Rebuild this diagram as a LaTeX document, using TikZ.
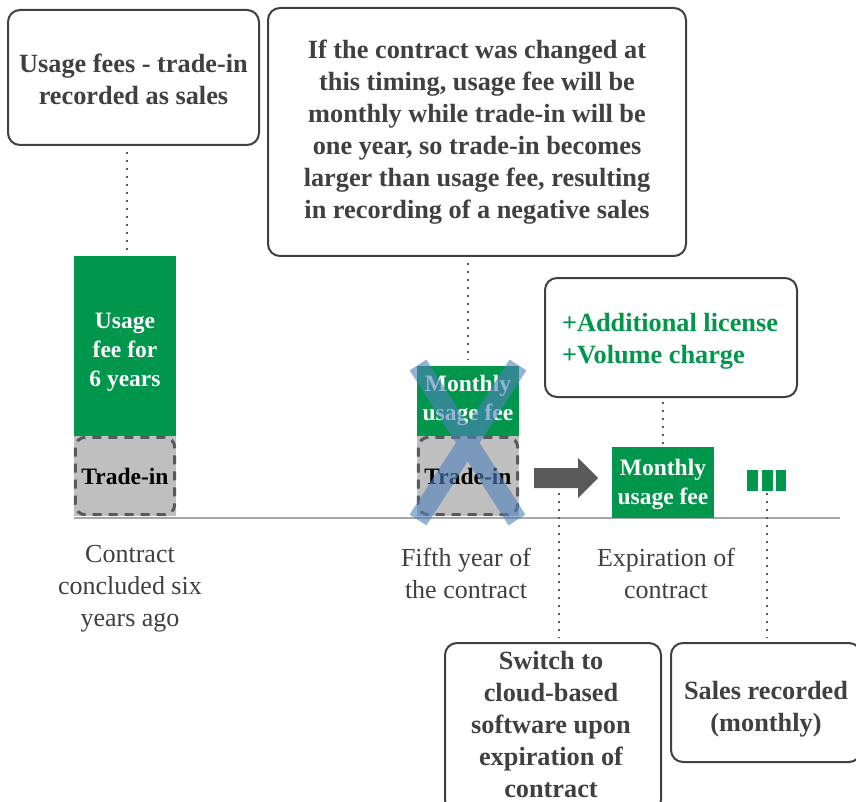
\documentclass[tikz,border=0pt]{standalone}
\usepackage{fontspec}
\setmainfont{Liberation Serif}
\usetikzlibrary{calc}
\definecolor{grn}{HTML}{00964B}
\definecolor{txt}{HTML}{404040}
\definecolor{edge}{HTML}{404040}
\definecolor{tradefill}{HTML}{BFBFBF}
\definecolor{dashc}{HTML}{595959}
\definecolor{axisc}{HTML}{A6A6A6}
\definecolor{xblue}{HTML}{4F81BD}
\tikzset{
 callout/.style={draw=edge, line width=2pt, rounded corners=12pt, fill=white, align=center, text=txt, font=\bfseries\fontsize{26.3}{32}\selectfont, inner sep=0pt},
 callouttext/.style={text=txt, align=center, font=\bfseries\fontsize{26.3}{32}\selectfont, inner sep=0pt},
 greenbox/.style={fill=grn, inner sep=0pt, minimum width=102pt},
 greentext/.style={text=white, align=center, font=\bfseries\fontsize{23.5}{29}\selectfont, inner sep=0pt},
 tradebox/.style={fill=tradefill, minimum width=102pt, minimum height=80pt, inner sep=0pt, text=black, font=\bfseries\fontsize{23.5}{29}\selectfont},
 tradeedge/.style={draw=dashc, line width=3pt, dash pattern=on 9pt off 7pt, rounded corners=10pt},
 timelabel/.style={text=txt, align=center, font=\fontsize{26}{32}\selectfont, inner sep=0pt},
 leader/.style={draw=dashc, line width=2pt, dash pattern=on 2pt off 6pt},
 bar/.style={fill=grn},
}
\begin{document}
\begin{tikzpicture}[x=1pt,y=-1pt]
\useasboundingbox (0,0) rectangle (856,802);
\clip (0,0) rectangle (856,802);
\fill[white] (0,0) rectangle (856,802);

% axis
\draw[axisc, line width=2pt] (74,518) -- (840,518);

% callouts
\node[callout, minimum width=251pt, minimum height=135pt] (b1) at (133.5,77.5) {};
\node[callouttext] (b1t) at (133.5,79) {Usage fees - trade-in\\recorded as sales};
\node[callout, minimum width=418pt, minimum height=248pt] (b2) at (477,132) {If the contract was changed at\\this timing, usage fee will be\\monthly while trade-in will be\\one year, so trade-in becomes\\larger than usage fee, resulting\\in recording of a negative sales};
\node[callout, minimum width=252pt, minimum height=119pt] (b3) at (671,337.5) {};
\node[callouttext, align=left, text=grn] (b3t) at (670,341) {+Additional license\\+Volume charge};
\node[callout, minimum width=216pt, minimum height=169pt] (b4) at (553,727.5) {};
\node[callouttext] (b4t) at (551,724) {Switch to\\cloud-based\\software upon\\expiration of\\contract};
\node[callout, minimum width=190pt, minimum height=119pt] (b5) at (766,702.5) {};
\node[callouttext] (b5t) at (766,709) {Sales recorded\\(monthly)};

% first column
\node[greenbox, minimum height=180pt] (g1) at (125,346) {};
\node[greentext] (g1t) at (125,352) {Usage\\fee for\\6 years};
\node[tradebox] (t1) at (125,476) {Trade-in};
\draw[tradeedge] ($(t1.south west)+(1.5,-1.5)$) rectangle ($(t1.north east)+(-1.5,1.5)$);

% second column
\node[greenbox, minimum height=70pt] (g2) at (468,401) {};
\node[greentext] (g2t) at (468,400) {Monthly\\usage fee};
\node[tradebox] (t2) at (468,476) {Trade-in};
\draw[tradeedge] ($(t2.south west)+(1.5,-1.5)$) rectangle ($(t2.north east)+(-1.5,1.5)$);

% cross
\coordinate (xa) at (418,365);
\coordinate (xb) at (517,520);
\coordinate (xc) at (518,365);
\coordinate (xd) at (418,520);
\draw[xblue, opacity=0.6, line width=20pt] (xa) -- (xb) (xc) -- (xd);

% block arrow
\fill[dashc] (534,468) -- (578,468) -- (578,458) -- (598,478) -- (578,498) -- (578,488) -- (534,488) -- cycle;
\coordinate (arrowfoot) at (559,493);

% third column
\node[greenbox, minimum height=71pt] (g3) at (663,482.5) {};
\node[greentext] (g3t) at (663,484) {Monthly\\usage fee};

% bars
\node[bar, minimum width=11pt, minimum height=21pt, inner sep=0pt] (bar1) at (752.5,480.5) {};
\node[bar, minimum width=11pt, minimum height=21pt, inner sep=0pt] (bar2) at (767.5,480.5) {};
\node[bar, minimum width=10pt, minimum height=21pt, inner sep=0pt] (bar3) at (781,480.5) {};
\coordinate (barsfoot) at (767,493);

% leaders
\draw[leader] (b1.south -| 127,0) ++(0,6) -- (127,252);
\draw[leader, shorten <=6pt, shorten >=6pt] (b2.south -| g2.north) -- (g2.north);
\draw[leader, shorten <=4pt, shorten >=3pt] (b3.south -| g3.north) -- (g3.north);
\draw[leader, shorten >=4pt] (arrowfoot) -- (arrowfoot |- b4.north);
\draw[leader, shorten >=4pt] (barsfoot) -- (barsfoot |- b5.north);

% time labels
\node[timelabel] (l1) at (130,589) {Contract\\concluded six\\years ago};
\node[timelabel] (l2) at (466,573) {Fifth year of\\the contract};
\node[timelabel] (l3) at (666,573) {Expiration of\\contract};
\end{tikzpicture}
\end{document}
